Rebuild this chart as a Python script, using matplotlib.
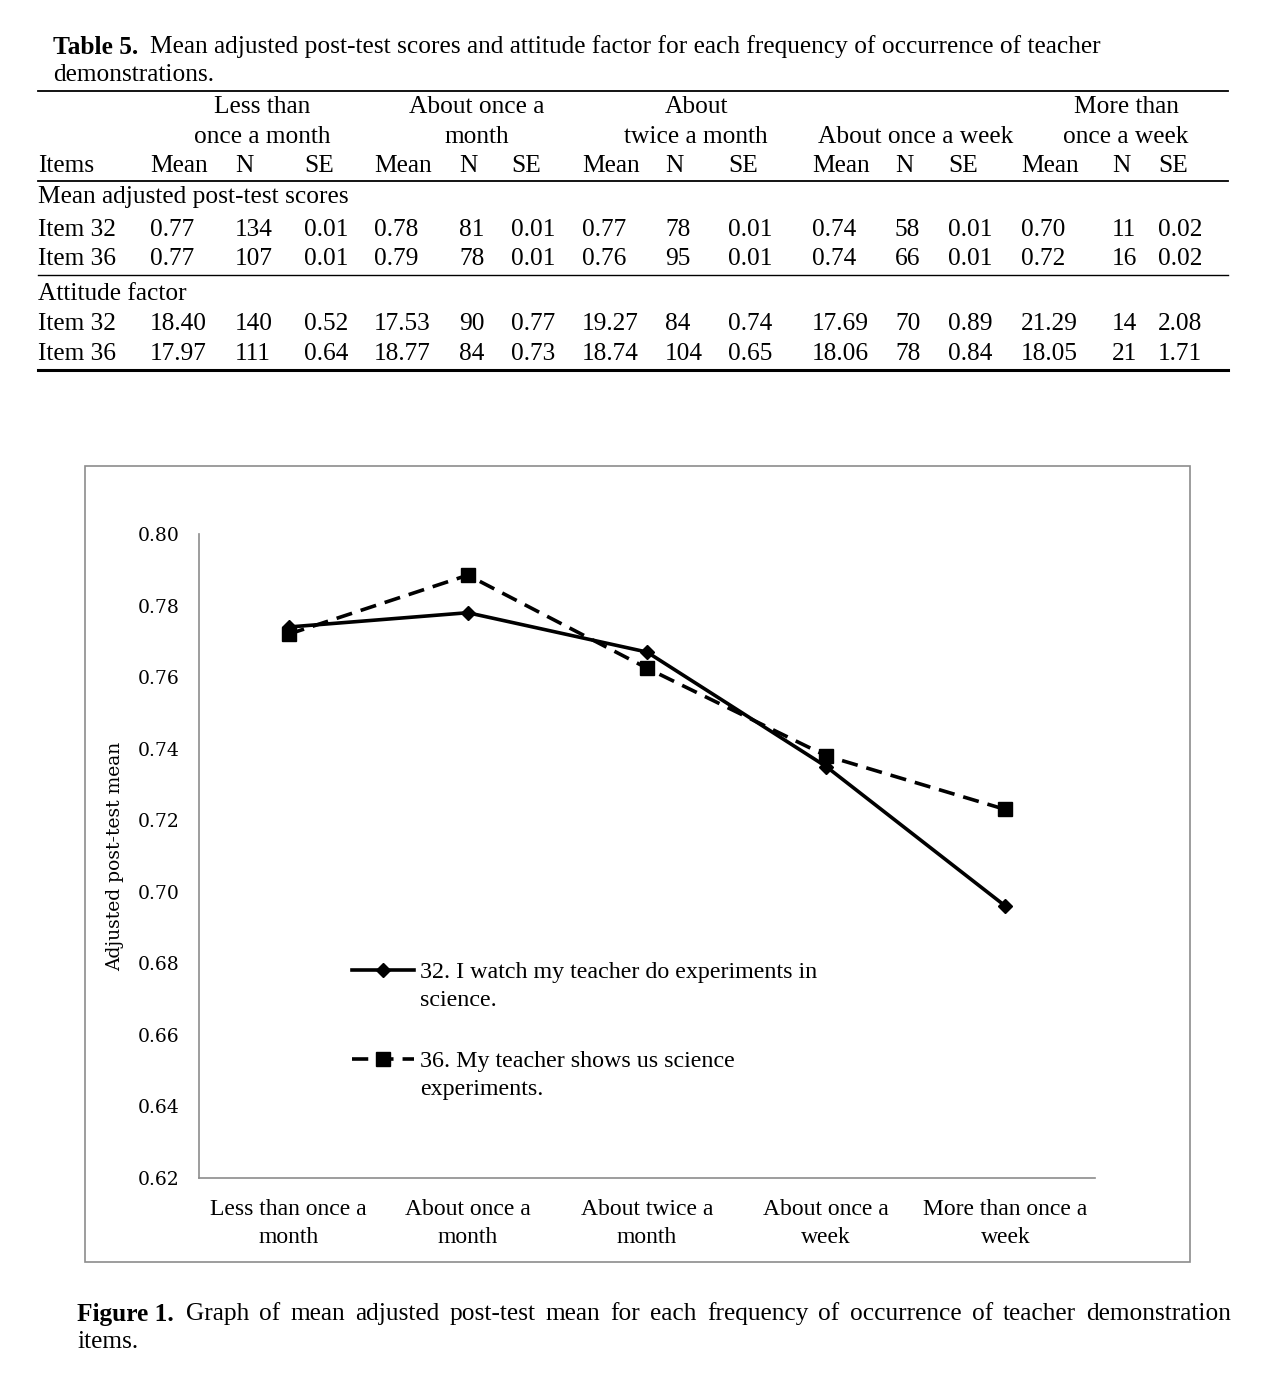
import numpy as np
import matplotlib.pyplot as plt
from matplotlib.patches import Rectangle
from matplotlib.lines import Line2D

W, H = 1264, 1380

# chart data
categories = ['Less than once a\nmonth', 'About once a\nmonth', 'About twice a\nmonth',
              'About once a\nweek', 'More than once a\nweek']
item32 = [0.774, 0.778, 0.767, 0.735, 0.696]
item36 = [0.772, 0.7885, 0.7625, 0.738, 0.723]
label32 = ['32. I watch my teacher do experiments in', 'science.']
label36 = ['36. My teacher shows us science', 'experiments.']

# table data
groups = [['Less than', 'once a month'], ['About once a', 'month'], ['About', 'twice a month'],
          ['', 'About once a week'], ['More than', 'once a week']]
post_32 = [['0.77', '134', '0.01'], ['0.78', '81', '0.01'], ['0.77', '78', '0.01'],
           ['0.74', '58', '0.01'], ['0.70', '11', '0.02']]
post_36 = [['0.77', '107', '0.01'], ['0.79', '78', '0.01'], ['0.76', '95', '0.01'],
           ['0.74', '66', '0.01'], ['0.72', '16', '0.02']]
att_32 = [['18.40', '140', '0.52'], ['17.53', '90', '0.77'], ['19.27', '84', '0.74'],
          ['17.69', '70', '0.89'], ['21.29', '14', '2.08']]
att_36 = [['17.97', '111', '0.64'], ['18.77', '84', '0.73'], ['18.74', '104', '0.65'],
          ['18.06', '78', '0.84'], ['18.05', '21', '1.71']]

fig = plt.figure(figsize=(W / 100, H / 100), dpi=100)

def fx(x):
    return x / W

def fy(y):
    return 1 - y / H

serif = 'Liberation Serif'
tfs = 18.3

# ---- table ----
fig.text(fx(53), fy(47), 'Table 5.', fontsize=tfs, fontweight='bold', family=serif, va='center')
fig.text(fx(150), fy(47), 'Mean adjusted post-test scores and attitude factor for each frequency of occurrence of teacher',
         fontsize=tfs, family=serif, va='center')
fig.text(fx(53), fy(75), 'demonstrations.', fontsize=tfs, family=serif, va='center')

def rule(y, lw):
    fig.add_artist(Line2D([fx(38), fx(1228)], [fy(y), fy(y)], color='black', lw=lw))

rule(91, 1.3)
rule(181, 1.3)
rule(275, 1.0)
rule(370, 2.2)

group_centers = [262, 477, 696, 916, 1126]
col_left = [[150, 235, 304], [374, 459, 511], [582, 665, 728], [812, 895, 948], [1021, 1112, 1158]]

for g, c in zip(groups, group_centers):
    fig.text(fx(c), fy(107), g[0], fontsize=tfs, family=serif, ha='center', va='center')
    fig.text(fx(c), fy(137), g[1], fontsize=tfs, family=serif, ha='center', va='center')

fig.text(fx(38), fy(166), 'Items', fontsize=tfs, family=serif, va='center')
for cols in col_left:
    for name, x in zip(['Mean', 'N', 'SE'], cols):
        fig.text(fx(x), fy(166), name, fontsize=tfs, family=serif, va='center')

fig.text(fx(38), fy(197), 'Mean adjusted post-test scores', fontsize=tfs, family=serif, va='center')
fig.text(fx(38), fy(294), 'Attitude factor', fontsize=tfs, family=serif, va='center')

for rows, ypos, name in [(post_32, 230, 'Item 32'), (post_36, 259, 'Item 36'),
                         (att_32, 324, 'Item 32'), (att_36, 354, 'Item 36')]:
    fig.text(fx(38), fy(ypos), name, fontsize=tfs, family=serif, va='center')
    for vals, cols in zip(rows, col_left):
        for v, x in zip(vals, cols):
            fig.text(fx(x), fy(ypos), v, fontsize=tfs, family=serif, va='center')

# ---- chart ----
fig.add_artist(Rectangle((fx(85), fy(1262)), fx(1190) - fx(85), fy(466) - fy(1262),
                         fill=False, edgecolor='#8c8c8c', lw=1.2))

ax = fig.add_axes([fx(199), fy(1178), fx(1095) - fx(199), fy(534) - fy(1178)])
x = np.arange(len(categories))
ax.plot(x, item32, color='black', lw=2.6, marker='D', markersize=7, label=label32[0])
ax.plot(x, item36, color='black', lw=2.6, ls=(0, (4.5, 2.5)), marker='s', markersize=10, label=label36[0])

ax.set_xlim(-0.5, len(categories) - 0.5)
ax.set_ylim(0.62, 0.80)
ticks = np.arange(0.62, 0.801, 0.02)
ax.set_yticks(ticks)
ax.set_yticklabels(['%.2f' % t for t in ticks], fontsize=13.5, family='DejaVu Serif')
ax.set_xticks(x)
ax.set_xticklabels(categories, fontsize=17, family=serif, linespacing=1.45)
ax.tick_params(length=0, pad=14)
ax.tick_params(axis='x', pad=15)
ax.set_ylabel('Adjusted post-test mean', fontsize=13.5, family='DejaVu Serif', labelpad=10)
for s in ['top', 'right']:
    ax.spines[s].set_visible(False)
for s in ['left', 'bottom']:
    ax.spines[s].set_color('#8c8c8c')
    ax.spines[s].set_linewidth(1.2)

leg = ax.legend(loc='upper left', bbox_to_anchor=(0.16, 0.351), frameon=False,
                prop={'family': serif, 'size': 17.3}, handlelength=2.6, handletextpad=0.25,
                labelspacing=2.78, borderaxespad=0)
# second line of each legend label sits under the first line
for t, lab in zip(leg.get_texts(), [label32, label36]):
    ax.annotate(lab[1], xy=(0, 0.5), xycoords=t, xytext=(0, -28), textcoords='offset pixels',
                va='center', ha='left', fontsize=17.3, family=serif, zorder=10)

# ---- caption (justified first line) ----
fig.text(fx(77), fy(1314), 'Figure 1.', fontsize=tfs, fontweight='bold', family=serif, va='center')
words = 'Graph of mean adjusted post-test mean for each frequency of occurrence of teacher demonstration'.split()
renderer = fig.canvas.get_renderer()
wtexts = [fig.text(0, fy(1314), w, fontsize=tfs, family=serif, va='center') for w in words]
widths = [t.get_window_extent(renderer).width for t in wtexts]
x0, x1 = 186, 1231
gap = (x1 - x0 - sum(widths)) / (len(words) - 1)
pos = x0
for t, w in zip(wtexts, widths):
    t.set_x(fx(pos))
    pos += w + gap
fig.text(fx(77), fy(1342), 'items.', fontsize=tfs, family=serif, va='center')

fig.canvas.draw()
fig.savefig('out.png', dpi=100)
